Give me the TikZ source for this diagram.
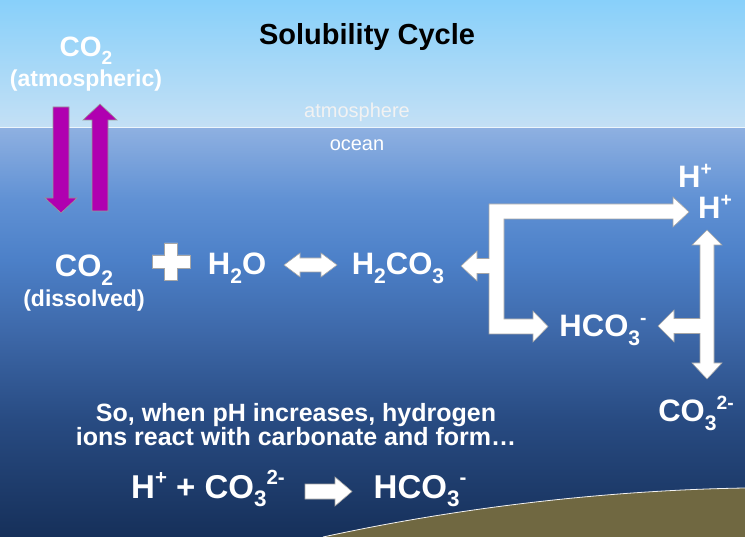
\documentclass[tikz,border=0pt]{standalone}
\usepackage{fontspec}
\setmainfont{Liberation Sans}
\usepackage{graphicx}
\newcommand\dn[1]{\raisebox{-0.26em}{\scalebox{0.68}{#1}}}
\newcommand\up[1]{\raisebox{0.40em}{\scalebox{0.62}{#1}}}
\definecolor{skytop}{RGB}{136,208,250}
\definecolor{skybot}{RGB}{196,224,245}
\definecolor{oc0}{RGB}{22,48,90}
\definecolor{oc1}{RGB}{40,75,130}
\definecolor{oc2}{RGB}{62,105,170}
\definecolor{oc3}{RGB}{76,128,200}
\definecolor{oc4}{RGB}{96,145,212}
\definecolor{oc5}{RGB}{142,176,225}
\definecolor{floorc}{RGB}{112,104,65}
\definecolor{purp}{RGB}{176,0,176}
\pgfdeclareverticalshading{skyshade}{100bp}{color(0bp)=(skybot); color(25bp)=(skybot); color(75bp)=(skytop); color(100bp)=(skytop)}
\pgfdeclareverticalshading{oceanshade}{100bp}{color(0bp)=(oc0); color(25bp)=(oc0); color(39.3bp)=(oc1); color(50.3bp)=(oc2); color(58.85bp)=(oc3); color(66.2bp)=(oc4); color(75bp)=(oc5); color(100bp)=(oc5)}
\begin{document}
\begin{tikzpicture}[x=1pt,y=-1pt,
  chem/.style={text=white, font=\bfseries\fontsize{31}{36}\selectfont, inner sep=0pt, anchor=base},
  note/.style={text=white, font=\bfseries\fontsize{23}{26}\selectfont, inner sep=0pt, anchor=base},
  blockarrow/.style={fill=white, draw=black!35, line width=0.6pt, line join=miter},
  purparrow/.style={fill=purp, draw=black!40, line width=0.6pt, line join=miter}]
\useasboundingbox (0,0) rectangle (745,537);
% background
\shade[shading=skyshade] (0,0) rectangle (745,128);
\shade[shading=oceanshade] (0,128) rectangle (745,537);
\draw[white!70!skybot, line width=1pt] (0,128) -- (745,128);
% sea floor
\fill[floorc] (323,537) .. controls (470,505) and (620,490) .. (745,488) -- (745,537) -- cycle;
\draw[white!90!gray, line width=0.8pt] (323,537) .. controls (470,505) and (620,490) .. (745,488);
% title
\node[inner sep=0pt, anchor=base, font=\bfseries\fontsize{29}{33}\selectfont] (title) at (367,45) {Solubility Cycle};
% atmospheric CO2
\node[chem, font=\bfseries\fontsize{28}{32}\selectfont] (co2a) at (86,57) {CO\dn{2}};
\node[note] (atm) at (86,87) {(atmospheric)};
\node[inner sep=0pt, anchor=base, text=white!95!black, font=\fontsize{20}{24}\selectfont] (atmo) at (357,118) {atmosphere};
\node[inner sep=0pt, anchor=base, text=white, font=\fontsize{20}{24}\selectfont] (ocean) at (357,151) {ocean};
% purple exchange arrows
\draw[purparrow] (53,107) -- (69,107) -- (69,198) -- (77,198) -- (61,213) -- (45,198) -- (53,198) -- cycle;
\draw[purparrow] (92,211) -- (108,211) -- (108,120) -- (117,120) -- (100,104) -- (83,120) -- (92,120) -- cycle;
% middle row
\node[chem] (co2d) at (84,277) {CO\dn{2}};
\node[note] (diss) at (84,307) {(dissolved)};
\draw[blockarrow] (164.5,243) -- (177.5,243) -- (177.5,255) -- (190,255) -- (190,268) -- (177.5,268) -- (177.5,280) -- (164.5,280) -- (164.5,268) -- (152,268) -- (152,255) -- (164.5,255) -- cycle;
\node[chem] (h2o) at (237,275) {H\dn{2}O};
\draw[blockarrow] (284,265) -- (300,253) -- (300,258) -- (321,258) -- (321,253) -- (337,265) -- (321,277) -- (321,272) -- (300,272) -- (300,277) -- cycle;
\node[chem] (h2co3) at (398,275) {H\dn{2}CO\dn{3}};
% bracket arrows
\draw[blockarrow] (489,204) -- (673,204) -- (673,197) -- (689,212) -- (673,227) -- (673,219) -- (504,219) -- (504,319) -- (533,319) -- (533,311) -- (548,326.5) -- (533,342) -- (533,334) -- (489,334) -- (489,273.5) -- (477,273.5) -- (477,281) -- (461,266) -- (477,251) -- (477,258.5) -- (489,258.5) -- cycle;
\draw[blockarrow] (707,230) -- (722,245) -- (714,245) -- (714,363) -- (722,363) -- (707,379) -- (692,363) -- (700,363) -- (700,333.5) -- (674,333.5) -- (674,342) -- (658,326) -- (674,310) -- (674,318.5) -- (700,318.5) -- (700,245) -- (692,245) -- cycle;
\node[chem] (hplus1) at (695,188) {H\up{+}};
\node[chem] (hplus2) at (715,219) {H\up{+}};
\node[chem] (hco3) at (603,337) {HCO\dn{3}\up{-}};
\node[chem] (co3) at (696,422) {CO\dn{3}\up{2-}};
% explanation
\node[inner sep=0pt, anchor=base, text=white, font=\bfseries\fontsize{25}{25}\selectfont] (expl1) at (296,422) {So, when pH increases, hydrogen};
\node[inner sep=0pt, anchor=base, text=white, font=\bfseries\fontsize{25}{25}\selectfont] (expl2) at (296,446) {ions react with carbonate and form…};
% equation
\node[chem, font=\bfseries\fontsize{33}{38}\selectfont] (lhs) at (208,498) {H\up{+} + CO\dn{3}\up{2-}};
\draw[blockarrow] (305,484) -- (335,484) -- (335,477) -- (352,491.5) -- (335,506) -- (335,499) -- (305,499) -- cycle;
\node[chem, font=\bfseries\fontsize{33}{38}\selectfont] (rhs) at (420,498) {HCO\dn{3}\up{-}};
\end{tikzpicture}
\end{document}
